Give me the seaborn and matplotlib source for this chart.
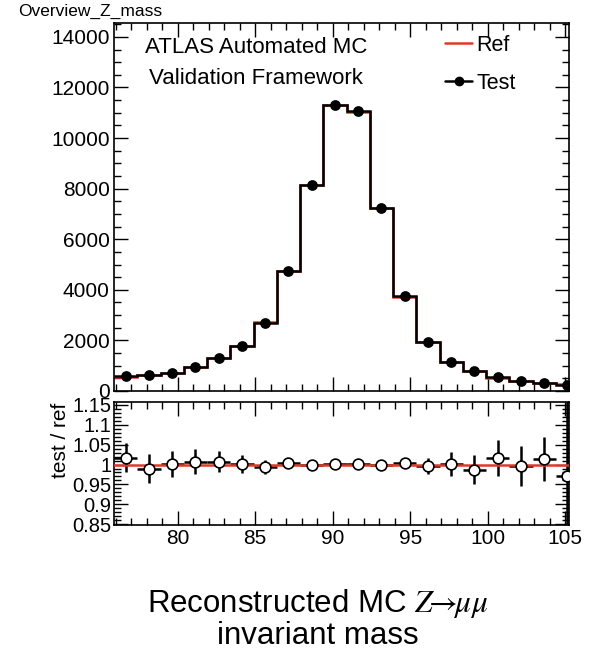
import numpy as np
import matplotlib
matplotlib.use('Agg')
import matplotlib.pyplot as plt
from matplotlib.ticker import MultipleLocator
import seaborn as sns

# bin centres of the Z mass histogram (GeV), 1.5 GeV wide
mass = [76.65, 78.15, 79.65, 81.15, 82.65, 84.15, 85.65, 87.15, 88.65, 90.15,
        91.65, 93.15, 94.65, 96.15, 97.65, 99.15, 100.65, 102.15, 103.65, 105.15]
# test histogram counts
test_counts = [580, 640, 720, 960, 1300, 1780, 2700, 4750, 8150, 11300,
               11050, 7250, 3750, 1950, 1150, 780, 540, 400, 320, 250]
# test / ref ratio and its errors
ratio = [1.017, 0.990, 1.002, 1.007, 1.007, 1.002, 0.993, 1.005, 1.000, 1.001,
         1.001, 1.000, 1.005, 0.997, 1.001, 0.987, 1.016, 0.997, 1.014, 0.970]
ratio_err = [0.037, 0.037, 0.033, 0.031, 0.027, 0.023, 0.018, 0.010, 0.006, 0.005,
             0.005, 0.006, 0.011, 0.020, 0.030, 0.037, 0.045, 0.050, 0.055, 0.300]

mass = np.array(mass)
test_counts = np.array(test_counts, dtype=float)
ratio = np.array(ratio)
ref_counts = test_counts / ratio
half = 0.75
edges = np.append(mass - half, mass[-1] + half)

sns.set_theme(style='ticks')
plt.rcParams['font.family'] = ['Liberation Sans', 'DejaVu Sans']
plt.rcParams['mathtext.fontset'] = 'stix'
plt.rcParams['text.color'] = 'black'
plt.rcParams['axes.labelcolor'] = 'black'

fig = plt.figure(figsize=(5.92, 6.58), dpi=100)
ax = fig.add_axes([0.1926, 0.4058, 0.7686, 0.5593])
axr = fig.add_axes([0.1926, 0.2021, 0.7686, 0.1869])

red = '#e0392b'

# main panel
ax.stairs(ref_counts, edges, baseline=None, color=red, lw=1.8, zorder=2)
ax.stairs(test_counts, edges, baseline=None, color='black', lw=1.8, zorder=3)
ax.errorbar(mass, test_counts, yerr=np.sqrt(test_counts), fmt='none',
            ecolor='black', elinewidth=1.5, zorder=4)
sns.scatterplot(x=mass, y=test_counts, ax=ax, color='black', s=60,
                edgecolor='black', linewidth=0, zorder=5, legend=False)
ax.set_xlim(75.9, 105.25)
ax.set_ylim(0, 14550)
ax.xaxis.set_major_locator(MultipleLocator(5))
ax.xaxis.set_minor_locator(MultipleLocator(1))
ax.yaxis.set_major_locator(MultipleLocator(2000))
ax.yaxis.set_minor_locator(MultipleLocator(500))
ax.tick_params(axis='x', labelbottom=False)

ax.text(0.312, 0.932, 'ATLAS Automated MC', transform=ax.transAxes,
        ha='center', va='center', fontsize=16)
ax.text(0.312, 0.848, 'Validation Framework', transform=ax.transAxes,
        ha='center', va='center', fontsize=16)

h_ref, = ax.plot([], [], color=red, lw=1.8)
h_test, = ax.plot([], [], color='black', lw=1.8, marker='o', ms=6)
ax.legend([h_ref, h_test], ['Ref', 'Test'], loc='upper left',
          bbox_to_anchor=(0.728, 0.968), frameon=False, fontsize=15.5,
          handlelength=1.25, handletextpad=0.2, labelspacing=0.8,
          borderpad=0, borderaxespad=0)

# ratio panel
axr.errorbar(mass, ratio, yerr=ratio_err, xerr=half, fmt='none',
             ecolor='black', elinewidth=1.8, zorder=3)
axr.axhline(1.0, color=red, lw=1.8, zorder=4)
sns.scatterplot(x=mass, y=ratio, ax=axr, color='white', s=60,
                edgecolor='black', linewidth=1.2, zorder=5, legend=False)
axr.set_xlim(75.9, 105.25)
axr.set_ylim(0.848, 1.157)
axr.set_yticks([0.85, 0.9, 0.95, 1.0, 1.05, 1.1, 1.15])
axr.set_yticklabels(['0.85', '0.9', '0.95', '1', '1.05', '1.1', '1.15'])
axr.yaxis.set_minor_locator(MultipleLocator(0.01))
axr.xaxis.set_major_locator(MultipleLocator(5))
axr.xaxis.set_minor_locator(MultipleLocator(1))

for a in (ax, axr):
    a.tick_params(which='both', direction='in', top=True, right=True,
                  colors='black', labelsize=15, width=1.0)
    a.tick_params(which='major', length=10, pad=3)
    a.tick_params(which='minor', length=5)
    for s in a.spines.values():
        s.set_linewidth(1.2)
        s.set_color('black')
    a.set_xlabel('')
axr.tick_params(axis='y', labelsize=14.5, pad=2)

axr.set_ylabel('')
axr.text(-0.118, 0.69, 'test / ref', transform=axr.transAxes, rotation=90,
         ha='center', va='center', fontsize=15)

fig.text(0.03, 0.982, 'Overview_Z_mass', ha='left', va='center', fontsize=12.5)
fig.text(0.537, 0.083, r'Reconstructed MC $Z\!\!\rightarrow\!\!\mu\mu$',
         ha='center', va='center', fontsize=22.5)
fig.text(0.537, 0.033, 'invariant mass', ha='center', va='center', fontsize=22.5)

fig.savefig('out.png', dpi=100, facecolor='white')
